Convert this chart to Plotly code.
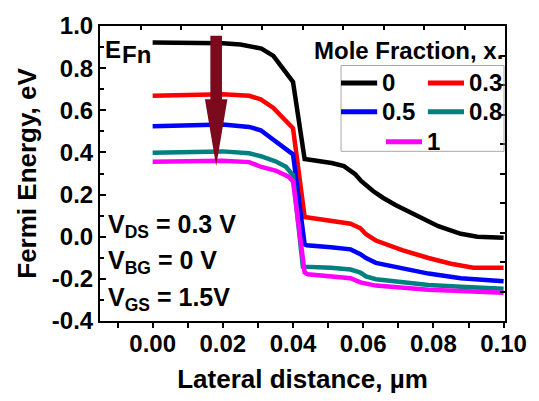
import plotly.graph_objects as go

# ---------------- data ----------------
mole_fractions = ["0", "0.3", "0.5", "0.8", "1"]
colors = ["#000000", "#ff0000", "#0000ff", "#008080", "#ff00ff"]

x_0 = [0, 0.01, 0.02, 0.025, 0.0285, 0.031, 0.0344, 0.0372, 0.040, 0.0433, 0.047, 0.051,
       0.0545, 0.0578, 0.0594, 0.0628, 0.0656, 0.0692, 0.0758, 0.0814, 0.0878, 0.0925, 0.1]
y_0 = [0.922, 0.921, 0.918, 0.912, 0.903, 0.893, 0.858, 0.794, 0.735, 0.369, 0.362, 0.350,
       0.335, 0.295, 0.265, 0.217, 0.185, 0.151, 0.096, 0.05, 0.014, 0.0, -0.005]

x_03 = [0, 0.01, 0.02, 0.0275, 0.0308, 0.0344, 0.0378, 0.040, 0.0433, 0.0508, 0.0564,
        0.0592, 0.0608, 0.0636, 0.0711, 0.0786, 0.085, 0.0914, 0.1]
y_03 = [0.669, 0.673, 0.676, 0.669, 0.652, 0.611, 0.552, 0.515, 0.094, 0.076, 0.062,
        0.04, 0.012, -0.018, -0.064, -0.101, -0.128, -0.147, -0.147]

x_05 = [0, 0.01, 0.02, 0.0275, 0.0308, 0.0344, 0.0378, 0.040, 0.0433, 0.0439, 0.0508,
        0.0564, 0.0592, 0.0608, 0.0636, 0.0711, 0.0786, 0.0878, 0.1]
y_05 = [0.524, 0.529, 0.532, 0.521, 0.505, 0.46, 0.414, 0.391, -0.036, -0.041, -0.05,
        -0.06, -0.083, -0.101, -0.124, -0.151, -0.175, -0.197, -0.211]

x_08 = [0, 0.01, 0.02, 0.0275, 0.0308, 0.035, 0.038, 0.040, 0.0428, 0.0508, 0.0564,
        0.0592, 0.0608, 0.0636, 0.0786, 0.0878, 0.1]
y_08 = [0.399, 0.403, 0.405, 0.396, 0.382, 0.358, 0.332, 0.291, -0.142, -0.147, -0.156,
        -0.17, -0.188, -0.202, -0.229, -0.238, -0.247]

x_1 = [0, 0.01, 0.02, 0.0275, 0.031, 0.035, 0.0386, 0.040, 0.0433, 0.0442, 0.0508,
       0.0564, 0.0592, 0.0636, 0.0786, 0.0878, 0.1]
y_1 = [0.356, 0.359, 0.361, 0.354, 0.331, 0.314, 0.286, 0.263, -0.169, -0.178, -0.187,
       -0.197, -0.217, -0.232, -0.252, -0.259, -0.266]

series_x = [x_0, x_03, x_05, x_08, x_1]
series_y = [y_0, y_03, y_05, y_08, y_1]

x_tick_vals = [0.00, 0.02, 0.04, 0.06, 0.08, 0.10]
x_tick_text = ["0.00", "0.02", "0.04", "0.06", "0.08", "0.10"]
y_tick_vals = [-0.4, -0.2, 0.0, 0.2, 0.4, 0.6, 0.8, 1.0]
y_tick_text = ["-0.4", "-0.2", "0.0", "0.2", "0.4", "0.6", "0.8", "1.0"]

# arrow (data coordinates)
arrow_x = 0.0181
arrow_top = 0.954
arrow_head_base = 0.652
arrow_tip = 0.336
arrow_shaft_half = 0.00165
arrow_head_half = 0.0032
arrow_color = "#7a0a1c"

FONT = "Liberation Sans, Arial, sans-serif"

fig = go.Figure()
for xs, ys, c, name in zip(series_x, series_y, colors, mole_fractions):
    fig.add_trace(go.Scatter(x=xs, y=ys, mode="lines", name=name,
                             line=dict(color=c, width=4.5), showlegend=False))

# dummy trace for decorative top/right axes
fig.add_trace(go.Scatter(x=[None], y=[None], xaxis="x2", yaxis="y2",
                         showlegend=False, hoverinfo="skip"))

# arrow polygon
ax = arrow_x
path = (f"M {ax - arrow_shaft_half},{arrow_top} L {ax + arrow_shaft_half},{arrow_top} "
        f"L {ax + arrow_shaft_half},{arrow_head_base} L {ax + arrow_head_half},{arrow_head_base} "
        f"L {ax},{arrow_tip} L {ax - arrow_head_half},{arrow_head_base} "
        f"L {ax - arrow_shaft_half},{arrow_head_base} Z")
shapes = [dict(type="path", path=path, xref="x", yref="y", fillcolor=arrow_color,
               line=dict(width=0))]

# legend (manual, paper coords)
L, R, T, B = 100, 515, 22, 328
def px(p):
    return (p - L) / (R - L)
def py(p):
    return (B - p) / (B - T)

legend_box = dict(x0=347, x1=514, y0=63, y1=152)
shapes.append(dict(type="rect", xref="paper", yref="paper",
                   x0=px(legend_box["x0"]), x1=px(legend_box["x1"]),
                   y0=py(legend_box["y1"]), y1=py(legend_box["y0"]),
                   line=dict(color="#a8a8a8", width=1), fillcolor="rgba(0,0,0,0)"))
legend_rows = [(347, 384, 81), (436, 473, 81), (347, 384, 111), (436, 473, 111), (393, 430, 142)]
annotations = []
for (x0, x1, yy), c, name in zip(legend_rows, colors, mole_fractions):
    shapes.append(dict(type="line", xref="paper", yref="paper", x0=px(x0), x1=px(x1),
                       y0=py(yy), y1=py(yy), line=dict(color=c, width=5)))
    annotations.append(dict(text=name, xref="paper", yref="paper", x=px(x1 + 3), y=py(yy),
                            xanchor="left", yanchor="middle", showarrow=False,
                            font=dict(family=FONT, size=24, color="black", weight="bold")))

annotations.append(dict(text="Mole Fraction, x.", xref="paper", yref="paper",
                        x=px(515), y=py(47), xanchor="right", yanchor="middle",
                        showarrow=False,
                        font=dict(family=FONT, size=24, color="black", weight="bold")))

annotations.append(dict(text="E", xref="paper", yref="paper", x=px(103), y=py(46),
                        xanchor="left", yanchor="middle", showarrow=False,
                        font=dict(family=FONT, size=24, color="black", weight="bold")))
annotations.append(dict(text="Fn", xref="paper", yref="paper", x=px(120), y=py(52),
                        xanchor="left", yanchor="middle", showarrow=False,
                        font=dict(family=FONT, size=24, color="black", weight="bold")))

for txt, yy in [("V<sub>DS</sub> = 0.3 V", 229), ("V<sub>BG</sub> = 0 V", 267),
                ("V<sub>GS</sub> = 1.5V", 305)]:
    annotations.append(dict(text=txt, xref="paper", yref="paper", x=px(106), y=py(yy),
                            xanchor="left", yanchor="middle", showarrow=False,
                            font=dict(family=FONT, size=25, color="black", weight="bold")))

tickfont = dict(family=FONT, size=24, color="black", weight="bold")
titlefont = dict(family=FONT, size=26, color="black", weight="bold")

fig.update_layout(
    width=539, height=401,
    margin=dict(l=L, r=539 - R, t=T, b=401 - B),
    paper_bgcolor="white", plot_bgcolor="white",
    showlegend=False,
    shapes=shapes, annotations=annotations,
    xaxis=dict(range=[-0.015, 0.1004], tickvals=x_tick_vals, ticktext=x_tick_text,
               ticks="outside", ticklen=5, tickwidth=2, tickcolor="black",
               ticklabelstandoff=-5,
               minor=dict(dtick=0.01, tick0=0, ticks="outside", ticklen=5, tickwidth=2,
                          tickcolor="black", showgrid=False),
               showline=True, linewidth=2, linecolor="black", mirror=True,
               showgrid=False, zeroline=False, tickfont=tickfont,
               title=dict(text="Lateral distance, µm", font=titlefont, standoff=14)),
    yaxis=dict(range=[-0.4, 1.0], tickvals=y_tick_vals, ticktext=y_tick_text,
               ticks="inside", ticklen=6, tickwidth=2, tickcolor="black",
               minor=dict(dtick=0.1, tick0=0, ticks="inside", ticklen=4, tickwidth=2,
                          tickcolor="black", showgrid=False),
               showline=True, linewidth=2, linecolor="black", mirror=True,
               showgrid=False, zeroline=False, tickfont=tickfont,
               title=dict(text="Fermi Energy, eV", font=titlefont, standoff=8)),
    xaxis2=dict(overlaying="x", side="top", range=[0, 10], dtick=1, tick0=0,
                ticks="inside", ticklen=4, tickwidth=2, tickcolor="black",
                showticklabels=False, showline=False, showgrid=False, zeroline=False),
    yaxis2=dict(overlaying="y", side="right", range=[0, 10], dtick=1, tick0=0,
                ticks="inside", ticklen=5, tickwidth=2, tickcolor="black",
                showticklabels=False, showline=False, showgrid=False, zeroline=False),
)

fig.write_html("out.html")
